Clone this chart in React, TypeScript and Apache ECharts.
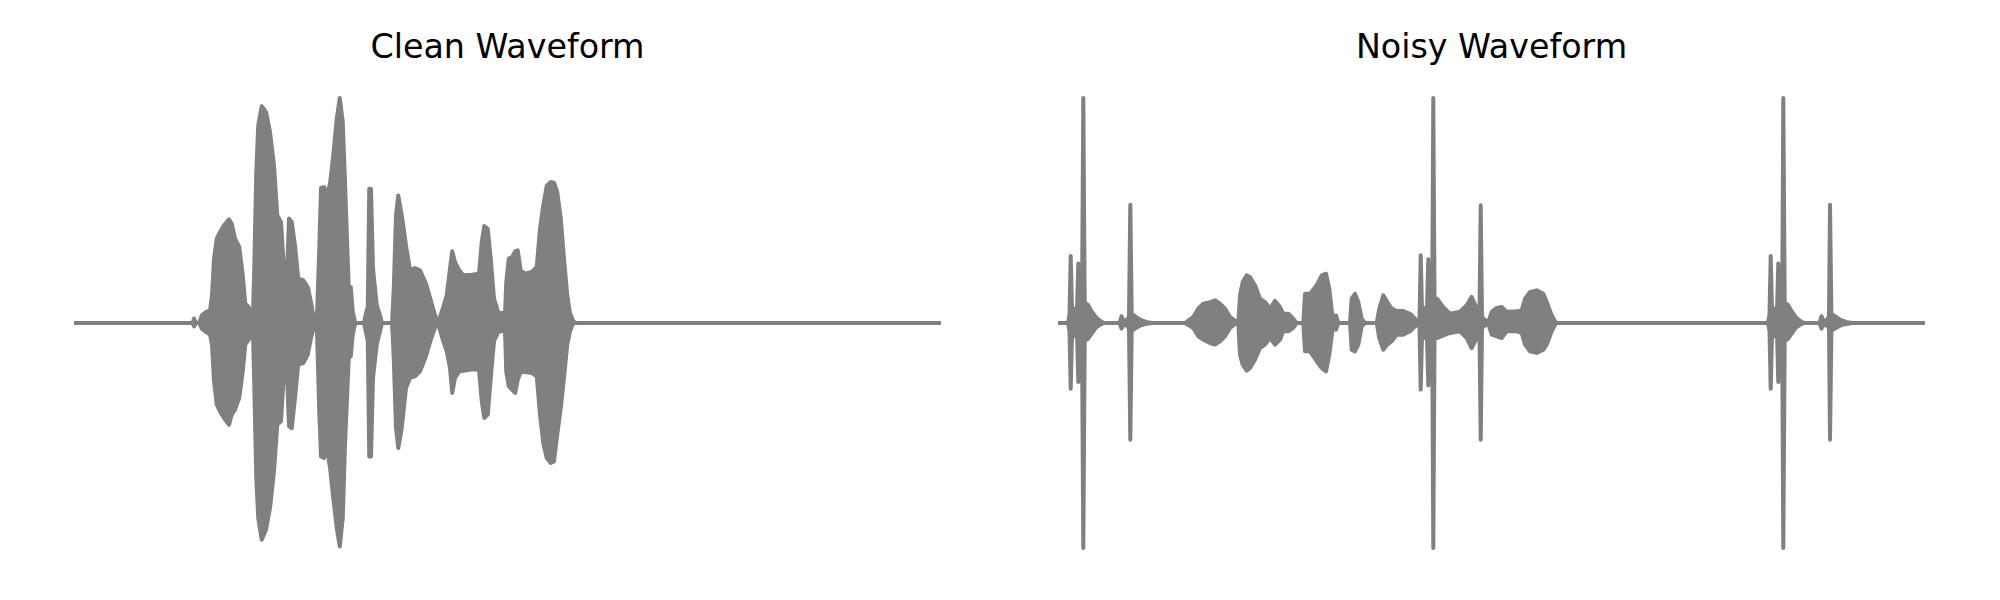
import React, { useEffect, useRef } from "react";
import * as echarts from "echarts";

// ---------- Clean waveform envelope (time in s, amplitude normalised to peak) ----------
const CLEAN_T = [
  0, 0.475, 0.48, 0.488, 0.501, 0.511, 0.528, 0.544, 0.552, 0.56, 0.571, 0.584, 0.6, 0.62, 0.631, 0.644, 0.661,
  0.675, 0.685, 0.699, 0.708, 0.715, 0.721, 0.729, 0.737, 0.751, 0.768, 0.784, 0.8, 0.813, 0.828, 0.84, 0.851,
  0.86, 0.871, 0.884, 0.897, 0.917, 0.935, 0.948, 0.96, 0.971, 0.981, 0.988, 1.0, 1.013, 1.024, 1.037, 1.051,
  1.063, 1.075, 1.084, 1.091, 1.099, 1.107, 1.115, 1.125, 1.16, 1.167, 1.175, 1.181, 1.188, 1.196, 1.211, 1.224,
  1.232, 1.272, 1.279, 1.288, 1.297, 1.311, 1.328, 1.344, 1.364, 1.384, 1.408, 1.427, 1.444, 1.456, 1.475, 1.491,
  1.504, 1.513, 1.524, 1.541, 1.557, 1.591, 1.62, 1.631, 1.641, 1.655, 1.667, 1.68, 1.697, 1.715, 1.723, 1.729,
  1.739, 1.752, 1.765, 1.775, 1.787, 1.804, 1.831, 1.851, 1.864, 1.877, 1.891, 1.907, 1.92, 1.933, 1.947, 1.96,
  1.973, 1.984, 1.997, 2.008, 3.468,
];
const CLEAN_UP = [
  0, 0, 0.02, 0, 0, 0.034, 0.049, 0.056, 0.123, 0.286, 0.375, 0.404, 0.434, 0.461, 0.441, 0.375, 0.338,
  0.212, 0.086, 0.071, 0.034, 0, 0.241, 0.671, 0.879, 0.964, 0.938, 0.849, 0.701, 0.479, 0.449, 0.241, 0.182,
  0.464, 0.449, 0.345, 0.197, 0.19, 0.16, 0.093, 0.012, 0, 0.33, 0.6, 0.604, 0.575, 0.619, 0.745, 0.908,
  1.0, 0.893, 0.627, 0.404, 0.16, 0.16, 0.049, 0, 0, 0.041, 0.071, 0.597, 0.596, 0.241, 0.079, 0.034,
  0, 0, 0.152, 0.479, 0.567, 0.479, 0.345, 0.234, 0.244, 0.234, 0.175, 0.101, 0.034, 0, 0.064, 0.123,
  0.241, 0.319, 0.271, 0.234, 0.212, 0.214, 0.219, 0.36, 0.431, 0.419, 0.286, 0.108, 0.046, 0.044, 0.008, 0.182,
  0.286, 0.293, 0.319, 0.323, 0.234, 0.219, 0.227, 0.249, 0.419, 0.523, 0.609, 0.627, 0.624, 0.582, 0.464, 0.286,
  0.123, 0.044, 0.008, 0, 0,
];
const CLEAN_LO = [
  0, 0, 0.015, 0, 0, 0.025, 0.04, 0.052, 0.096, 0.259, 0.363, 0.393, 0.422, 0.452, 0.407, 0.385, 0.333,
  0.215, 0.096, 0.074, 0.037, 0, 0.274, 0.689, 0.867, 0.963, 0.919, 0.822, 0.659, 0.452, 0.437, 0.215, 0.2,
  0.459, 0.467, 0.333, 0.185, 0.178, 0.141, 0.067, 0.015, 0, 0.393, 0.593, 0.6, 0.563, 0.644, 0.778, 0.911,
  0.993, 0.867, 0.541, 0.363, 0.156, 0.148, 0.052, 0, 0, 0.037, 0.081, 0.593, 0.593, 0.244, 0.096, 0.037,
  0, 0, 0.156, 0.467, 0.556, 0.467, 0.289, 0.244, 0.237, 0.215, 0.148, 0.074, 0.022, 0, 0.074, 0.126,
  0.2, 0.311, 0.244, 0.215, 0.212, 0.207, 0.207, 0.348, 0.422, 0.407, 0.244, 0.081, 0.04, 0.035, 0, 0.215,
  0.281, 0.296, 0.311, 0.252, 0.218, 0.218, 0.222, 0.237, 0.407, 0.533, 0.6, 0.622, 0.615, 0.496, 0.378, 0.244,
  0.096, 0.037, 0, 0, 0,
];

// ---------- Noisy waveform envelope ----------
const NOISY_T = [
  0, 0.04, 0.046, 0.0508, 0.056, 0.068, 0.076, 0.0812, 0.086, 0.092, 0.096, 0.1012, 0.1068, 0.12, 0.136, 0.152,
  0.168, 0.184, 0.246, 0.254, 0.26, 0.276, 0.284, 0.2892, 0.2948, 0.308, 0.328, 0.352, 0.376,
  0.508, 0.5412, 0.5612, 0.5812, 0.608, 0.628, 0.648, 0.668, 0.688, 0.7148, 0.7212, 0.728, 0.7388, 0.7548, 0.768,
  0.788, 0.808, 0.828, 0.848, 0.868, 0.888, 0.9012, 0.9212, 0.9412, 0.9548, 0.9812, 0.988, 1.008, 1.0348, 1.0548,
  1.072, 1.0852, 1.0988, 1.112, 1.1212, 1.168, 1.1748, 1.188, 1.2012, 1.2148, 1.228, 1.2748, 1.2852, 1.3012,
  1.3172, 1.3348, 1.3548, 1.3812, 1.408, 1.428, 1.4412, 1.446, 1.4508, 1.456, 1.464, 1.476, 1.4812, 1.4864, 1.492,
  1.4968, 1.5012, 1.506, 1.516, 1.5412, 1.568, 1.608, 1.6348, 1.6548, 1.6748, 1.686, 1.6908, 1.696, 1.7012, 1.7212,
  1.7348, 1.7548, 1.7748, 1.7948, 1.8348, 1.8548, 1.868, 1.888, 1.9148, 1.9412, 1.9548, 1.9748, 1.992,
  2.84, 2.846, 2.8508, 2.856, 2.868, 2.876, 2.8812, 2.886, 2.892, 2.8968, 2.9012, 2.9068, 2.92, 2.936, 2.952,
  2.968, 2.984, 3.046, 3.054, 3.06, 3.076, 3.084, 3.088, 3.0936, 3.108, 3.128, 3.152, 3.176, 3.468,
];
const NOISY_UP = [
  0, 0, 0.04, 0.298, 0.06, 0.064, 0.05, 0.264, 0.06, 0.24, 0.08, 1.0, 0.09, 0.08, 0.05, 0.025,
  0.01, 0, 0, 0.03, 0.012, 0.012, 0.03, 0.526, 0.04, 0.03, 0.015, 0.005, 0,
  0, 0.027, 0.064, 0.086, 0.093, 0.101, 0.086, 0.064, 0.027, 0.004, 0, 0.123, 0.182, 0.212, 0.204,
  0.168, 0.108, 0.093, 0.064, 0.098, 0.071, 0.041, 0.041, 0.019, 0, 0, 0.13, 0.13, 0.168, 0.212,
  0.219, 0.152, 0.019, 0.034, 0, 0, 0.108, 0.13, 0.093, 0.019, 0, 0, 0.064, 0.123,
  0.093, 0.064, 0.053, 0.053, 0.041, 0.019, 0.005, 0.02, 0.301, 0.06, 0.064, 0.07, 0.283, 0.08, 0.24,
  0.09, 1.0, 0.11, 0.108, 0.07, 0.041, 0.05, 0.079, 0.116, 0.064, 0.05, 0.523, 0.03, 0.019, 0.004,
  0.05, 0.067, 0.071, 0.05, 0.052, 0.056, 0.108, 0.138, 0.145, 0.13, 0.093, 0.034, 0,
  0, 0.04, 0.298, 0.06, 0.064, 0.05, 0.264, 0.06, 0.24, 0.08, 1.0, 0.09, 0.08, 0.05, 0.025,
  0.01, 0, 0, 0.03, 0.012, 0.012, 0.03, 0.526, 0.04, 0.03, 0.015, 0.005, 0, 0,
];
const NOISY_LO = [
  0, 0, 0.035, 0.292, 0.055, 0.059, 0.045, 0.262, 0.05, 0.24, 0.07, 1.0, 0.08, 0.07, 0.045, 0.02,
  0.008, 0, 0, 0.025, 0.01, 0.01, 0.025, 0.519, 0.035, 0.025, 0.012, 0.004, 0,
  0, 0.022, 0.059, 0.074, 0.089, 0.096, 0.081, 0.059, 0.022, 0, 0, 0.141, 0.185, 0.212, 0.2,
  0.163, 0.111, 0.096, 0.067, 0.096, 0.074, 0.037, 0.037, 0.022, 0, 0, 0.126, 0.126, 0.17, 0.2,
  0.215, 0.141, 0.022, 0.03, 0, 0, 0.119, 0.126, 0.096, 0.015, 0, 0, 0.067, 0.119,
  0.096, 0.081, 0.052, 0.052, 0.037, 0.015, 0.005, 0.02, 0.296, 0.06, 0.067, 0.065, 0.277, 0.07, 0.244,
  0.07, 1.0, 0.07, 0.067, 0.055, 0.044, 0.037, 0.067, 0.111, 0.067, 0.04, 0.519, 0.025, 0.015, 0.004,
  0.052, 0.059, 0.067, 0.037, 0.037, 0.044, 0.096, 0.126, 0.133, 0.119, 0.096, 0.037, 0,
  0, 0.035, 0.292, 0.055, 0.059, 0.045, 0.262, 0.05, 0.24, 0.07, 1.0, 0.08, 0.07, 0.045, 0.02,
  0.008, 0, 0, 0.025, 0.01, 0.01, 0.025, 0.519, 0.035, 0.025, 0.012, 0.004, 0, 0,
];

const TITLES = ["Clean Waveform", "Noisy Waveform"];
const DURATION = 3.468;

const GRAY = "#808080";

function waveSeries(t: number[], vals: number[], sign: number, idx: number) {
  return {
    type: "line",
    xAxisIndex: idx,
    yAxisIndex: idx,
    data: t.map((x, i) => [x, sign * vals[i]]),
    showSymbol: false,
    symbol: "none",
    clip: false,
    silent: true,
    lineStyle: { color: GRAY, width: 4, join: "round", cap: "butt" },
    areaStyle: { color: GRAY, opacity: 1, origin: 0 },
  };
}

export default function App() {
  const ref = useRef<HTMLDivElement>(null);
  useEffect(() => {
    if (!ref.current) return;
    const chart = echarts.init(ref.current, undefined, { renderer: "svg" });
    const grids = [
      { left: 74, width: 867, top: 98, height: 450 },
      { left: 1058, width: 867, top: 98, height: 450 },
    ];
    chart.setOption({
      animation: false,
      backgroundColor: "#ffffff",
      grid: grids,
      xAxis: grids.map((_, i) => ({ gridIndex: i, type: "value", min: 0, max: DURATION, show: false })),
      yAxis: grids.map((_, i) => ({ gridIndex: i, type: "value", min: -1, max: 1, show: false })),
      graphic: TITLES.map((txt, i) => ({
        type: "text",
        x: grids[i].left + grids[i].width / 2,
        y: 46,
        style: {
          text: txt,
          fill: "#000000",
          font: "33.3px 'DejaVu Sans'",
          align: "center",
          verticalAlign: "middle",
        },
      })),
      series: [
        waveSeries(CLEAN_T, CLEAN_UP, 1, 0),
        waveSeries(CLEAN_T, CLEAN_LO, -1, 0),
        waveSeries(NOISY_T, NOISY_UP, 1, 1),
        waveSeries(NOISY_T, NOISY_LO, -1, 1),
      ],
    });
    return () => chart.dispose();
  }, []);
  return (
    <div
      ref={ref}
      style={{ position: "absolute", left: 0, top: 0, width: 2000, height: 600 }}
    />
  );
}
